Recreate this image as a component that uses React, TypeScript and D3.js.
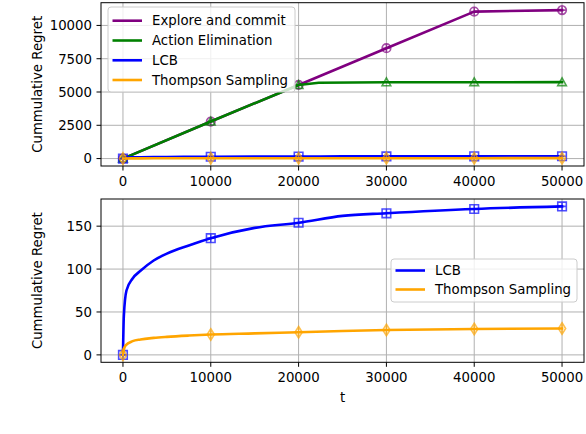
import React from "react";
import * as d3 from "d3";

// ---- data ----
const ecT = [0, 10000, 20000, 30000, 40000, 50000];
const ecRegret = [0, 2780, 5530, 8290, 11040, 11150];

const aeT = [0, 10000, 20000, 22300, 30000, 40000, 50000];
const aeRegret = [0, 2780, 5530, 5700, 5730, 5735, 5740];

const lcbT = [0, 100, 400, 1100, 2000, 3500, 5000, 7500, 10000, 15000, 20000, 25000, 30000, 40000, 50000];
const lcbRegret = [0, 45, 75, 89, 98, 110, 118, 127.5, 136, 148, 154, 162, 165, 170, 173];

const tsT = [0, 100, 300, 1100, 2000, 3500, 5000, 7500, 10000, 15000, 20000, 25000, 30000, 40000, 50000];
const tsRegret = [0, 6, 11, 16, 18, 19.8, 21, 22.5, 23.7, 25, 26.4, 27.8, 29, 30.2, 30.7];

const xTicks = [0, 10000, 20000, 30000, 40000, 50000];
const yTicksTop = [0, 2500, 5000, 7500, 10000];
const yTicksBottom = [0, 50, 100, 150];

const FONT = "DejaVu Sans";
const FS = 13.3;

type Series = { name: string; t: number[]; v: number[]; color: string; marker: string; smooth: boolean };

const topSeries: Series[] = [
  { name: "Explore and commit", t: ecT, v: ecRegret, color: "#800080", marker: "circleplus", smooth: false },
  { name: "Action Elimination", t: aeT, v: aeRegret, color: "#008000", marker: "triangle", smooth: false },
  { name: "LCB", t: lcbT, v: lcbRegret, color: "#0000ff", marker: "squareplus", smooth: true },
  { name: "Thompson Sampling", t: tsT, v: tsRegret, color: "#ffa500", marker: "diamond", smooth: true },
];
const bottomSeries: Series[] = topSeries.slice(2);

function markerPath(kind: string, cx: number, cy: number): string {
  const s = 4.3;
  switch (kind) {
    case "circleplus":
      return `M${cx - s},${cy} a${s},${s} 0 1,0 ${2 * s},0 a${s},${s} 0 1,0 ${-2 * s},0 M${cx - s},${cy} L${cx + s},${cy} M${cx},${cy - s} L${cx},${cy + s}`;
    case "triangle":
      return `M${cx},${cy - s} L${cx + s},${cy + s * 0.8} L${cx - s},${cy + s * 0.8} Z`;
    case "squareplus":
      return `M${cx - s},${cy - s} H${cx + s} V${cy + s} H${cx - s} Z M${cx - s},${cy} H${cx + s} M${cx},${cy - s} V${cy + s}`;
    case "diamond":
      return `M${cx},${cy - s - 1.5} L${cx + 3.6},${cy} L${cx},${cy + s + 1.5} L${cx - 3.6},${cy} Z M${cx},${cy - s - 1.5} V${cy + s + 1.5}`;
  }
  return "";
}

function Panel({
  series,
  top,
  bottom,
  yTicks,
  showXLabel,
  legend,
}: {
  series: Series[];
  top: number;
  bottom: number;
  yTicks: number[];
  showXLabel: boolean;
  legend: { x: number; y: number; w: number; h: number; rowY: number[] };
}) {
  const left = 101;
  const right = 584;
  const allV = series.flatMap((s) => s.v);
  const vmin = d3.min(allV)!;
  const vmax = d3.max(allV)!;
  const vr = vmax - vmin;
  const x = d3.scaleLinear().domain([-2500, 52500]).range([left, right]);
  const y = d3.scaleLinear().domain([vmin - 0.05 * vr, vmax + 0.05 * vr]).range([bottom, top]);
  const smoothLine = d3
    .line<[number, number]>()
    .x((d) => x(d[0]))
    .y((d) => y(d[1]))
    .curve(d3.curveMonotoneX);
  const straightLine = d3
    .line<[number, number]>()
    .x((d) => x(d[0]))
    .y((d) => y(d[1]));
  const tick = 4.5;
  return (
    <g>
      <defs>
        <clipPath id={`clip${Math.round(top)}`}>
          <rect x={left} y={top} width={right - left} height={bottom - top} />
        </clipPath>
      </defs>
      {/* grid */}
      {xTicks.map((t) => (
        <line key={"gx" + t} x1={x(t)} x2={x(t)} y1={top} y2={bottom} stroke="#b0b0b0" strokeWidth={1} />
      ))}
      {yTicks.map((t) => (
        <line key={"gy" + t} x1={left} x2={right} y1={y(t)} y2={y(t)} stroke="#b0b0b0" strokeWidth={1} />
      ))}
      {/* series */}
      <g clipPath={`url(#clip${Math.round(top)})`}>
        {series.map((s) => {
          const pts = s.t.map((t, i) => [t, s.v[i]] as [number, number]);
          const gen = s.smooth ? smoothLine : straightLine;
          return (
            <g key={s.name}>
              <path d={gen(pts)!} fill="none" stroke={s.color} strokeWidth={2.6} strokeLinejoin="round" strokeLinecap="square" />
              {pts
                .filter((p) => p[0] % 10000 === 0)
                .map((p) => (
                  <path
                    key={p[0]}
                    d={markerPath(s.marker, x(p[0]), y(p[1]))}
                    fill="none"
                    stroke={s.color}
                    strokeWidth={1.6}
                    opacity={0.7}
                  />
                ))}
            </g>
          );
        })}
      </g>
      {/* spines */}
      <rect x={left} y={top} width={right - left} height={bottom - top} fill="none" stroke="#000" strokeWidth={1} />
      {/* x ticks */}
      {xTicks.map((t) => (
        <g key={"xt" + t}>
          <line x1={x(t)} x2={x(t)} y1={bottom} y2={bottom + tick} stroke="#000" strokeWidth={1} />
          <text x={x(t)} y={bottom + 9.5} dy="0.76em" textAnchor="middle" fontFamily={FONT} fontSize={FS} fill="#000">
            {t}
          </text>
        </g>
      ))}
      {yTicks.map((t) => (
        <g key={"yt" + t}>
          <line x1={left - tick} x2={left} y1={y(t)} y2={y(t)} stroke="#000" strokeWidth={1} />
          <text x={left - 9} y={y(t)} dy="0.36em" textAnchor="end" fontFamily={FONT} fontSize={FS} fill="#000">
            {t}
          </text>
        </g>
      ))}
      <text
        transform={`translate(37,${(top + bottom) / 2}) rotate(-90)`}
        dy="0.36em"
        textAnchor="middle"
        fontFamily={FONT}
        fontSize={FS}
        fill="#000"
      >
        Cummulative Regret
      </text>
      {showXLabel && (
        <text x={(left + right) / 2} y={397} dy="0.36em" textAnchor="middle" fontFamily={FONT} fontSize={FS} fill="#000">
          t
        </text>
      )}
      {/* legend */}
      <rect
        x={legend.x}
        y={legend.y}
        width={legend.w}
        height={legend.h}
        rx={3}
        fill="#fff"
        fillOpacity={0.8}
        stroke="#cccccc"
        strokeWidth={1}
      />
      {series.map((s, i) => (
        <g key={"lg" + s.name}>
          <line
            x1={legend.x + 4.5}
            x2={legend.x + 34}
            y1={legend.rowY[i]}
            y2={legend.rowY[i]}
            stroke={s.color}
            strokeWidth={2.6}
          />
          <text x={legend.x + 44} y={legend.rowY[i]} dy="0.36em" fontFamily={FONT} fontSize={FS} fill="#000">
            {s.name}
          </text>
        </g>
      ))}
    </g>
  );
}

export default function App() {
  return (
    <svg
      width={586}
      height={434}
      style={{ position: "absolute", left: 0, top: 0, background: "#fff" }}
    >
      <rect width={586} height={434} fill="#fff" />
      <Panel
        series={topSeries}
        top={2.7}
        bottom={166}
        yTicks={yTicksTop}
        showXLabel={false}
        legend={{ x: 108, y: 7, w: 187, h: 85, rowY: [20.7, 40.5, 60.3, 80] }}
      />
      <Panel
        series={bottomSeries}
        top={199}
        bottom={362.3}
        yTicks={yTicksBottom}
        showXLabel={true}
        legend={{ x: 391, y: 259, w: 186, h: 43, rowY: [270.5, 289.5] }}
      />
    </svg>
  );
}
